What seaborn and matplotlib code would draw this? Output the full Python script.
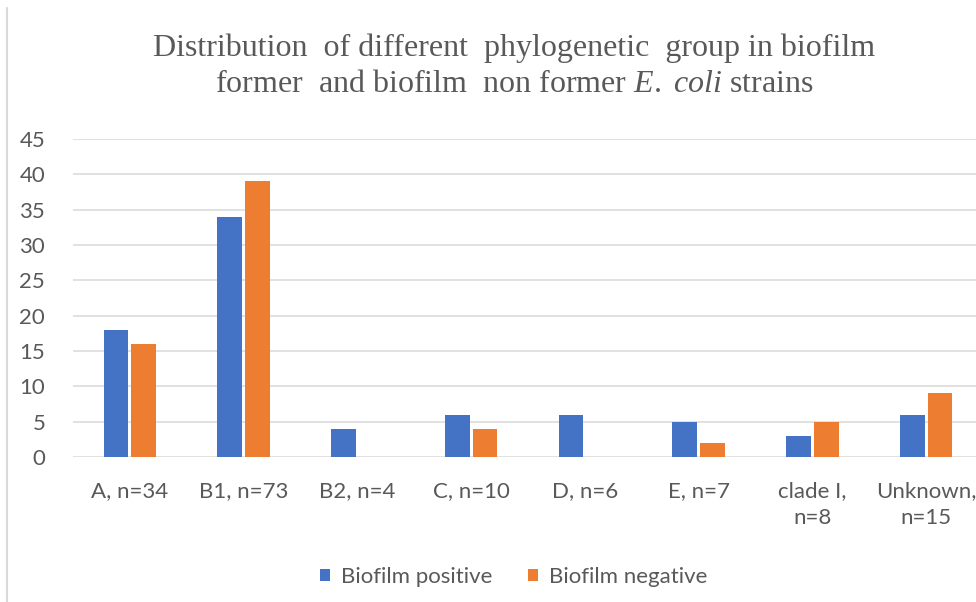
import matplotlib
matplotlib.use("Agg")
import matplotlib.pyplot as plt
from matplotlib.lines import Line2D
import pandas as pd
import seaborn as sns

groups = ["A, n=34", "B1, n=73", "B2, n=4", "C, n=10", "D, n=6", "E, n=7",
          "clade I,\nn=8", "Unknown,\nn=15"]
biofilm_positive = [18, 34, 4, 6, 6, 5, 3, 6]
biofilm_negative = [16, 39, 0, 4, 0, 2, 5, 9]
series_names = ["Biofilm positive", "Biofilm negative"]
colors = ["#4472C4", "#ED7D31"]

df = pd.DataFrame({
    "group": groups * 2,
    "count": biofilm_positive + biofilm_negative,
    "series": [series_names[0]] * len(groups) + [series_names[1]] * len(groups),
})

sns.set_style("white")
plt.rcParams["font.family"] = ["Lato", "DejaVu Sans"]
plt.rcParams["mathtext.fontset"] = "custom"
plt.rcParams["mathtext.rm"] = "Liberation Serif"
plt.rcParams["mathtext.it"] = "Liberation Serif:italic"

text_grey = "#595959"
grid_grey = "#D9D9D9"

fig = plt.figure(figsize=(9.76, 6.02), dpi=100)
ax = fig.add_axes([73 / 976, 145 / 602, 910 / 976, 318 / 602])

sns.barplot(data=df, x="group", y="count", hue="series", order=groups,
            hue_order=series_names, palette=colors, saturation=1,
            width=0.49, gap=0.11, linewidth=0, ax=ax)

handles, labels = ax.get_legend_handles_labels()
ax.get_legend().remove()

ax.set_xlim(-0.5, len(groups) - 0.5)
ax.set_ylim(0, 45)
ax.set_yticks(range(0, 46, 5))
ax.yaxis.grid(True, color=grid_grey, linewidth=1.1)
ax.set_axisbelow(True)
for s in ax.spines.values():
    s.set_visible(False)
ax.set_xlabel("")
ax.set_ylabel("")
ax.tick_params(axis="y", length=0, pad=20, labelsize=16, labelcolor=text_grey)
ax.tick_params(axis="x", length=0, pad=17, labelsize=16, labelcolor=text_grey)
for lbl in ax.get_xticklabels():
    lbl.set_linespacing(1.45)

fig.text(514 / 976, 1 - 48 / 602,
         "Distribution  of different  phylogenetic  group in biofilm",
         ha="center", va="center", fontsize=23, color=text_grey,
         family="Liberation Serif")
fig.text(514 / 976, 1 - 85 / 602,
         r"former  and biofilm  non former $\mathit{E.}$$\mathit{\ coli}$ strains",
         ha="center", va="center", fontsize=23, color=text_grey,
         family="Liberation Serif")

fig.legend(handles, labels, loc="center", bbox_to_anchor=(514 / 976, 1 - 577 / 602),
           ncol=2, frameon=False, fontsize=16, labelcolor=text_grey,
           handlelength=0.45, handleheight=0.45, handletextpad=0.5, columnspacing=1.6)

fig.add_artist(Line2D([7 / 976, 7 / 976], [0, 1 - 8 / 602], color=grid_grey,
                      linewidth=1.5, transform=fig.transFigure))

fig.savefig("out.png", dpi=100)
